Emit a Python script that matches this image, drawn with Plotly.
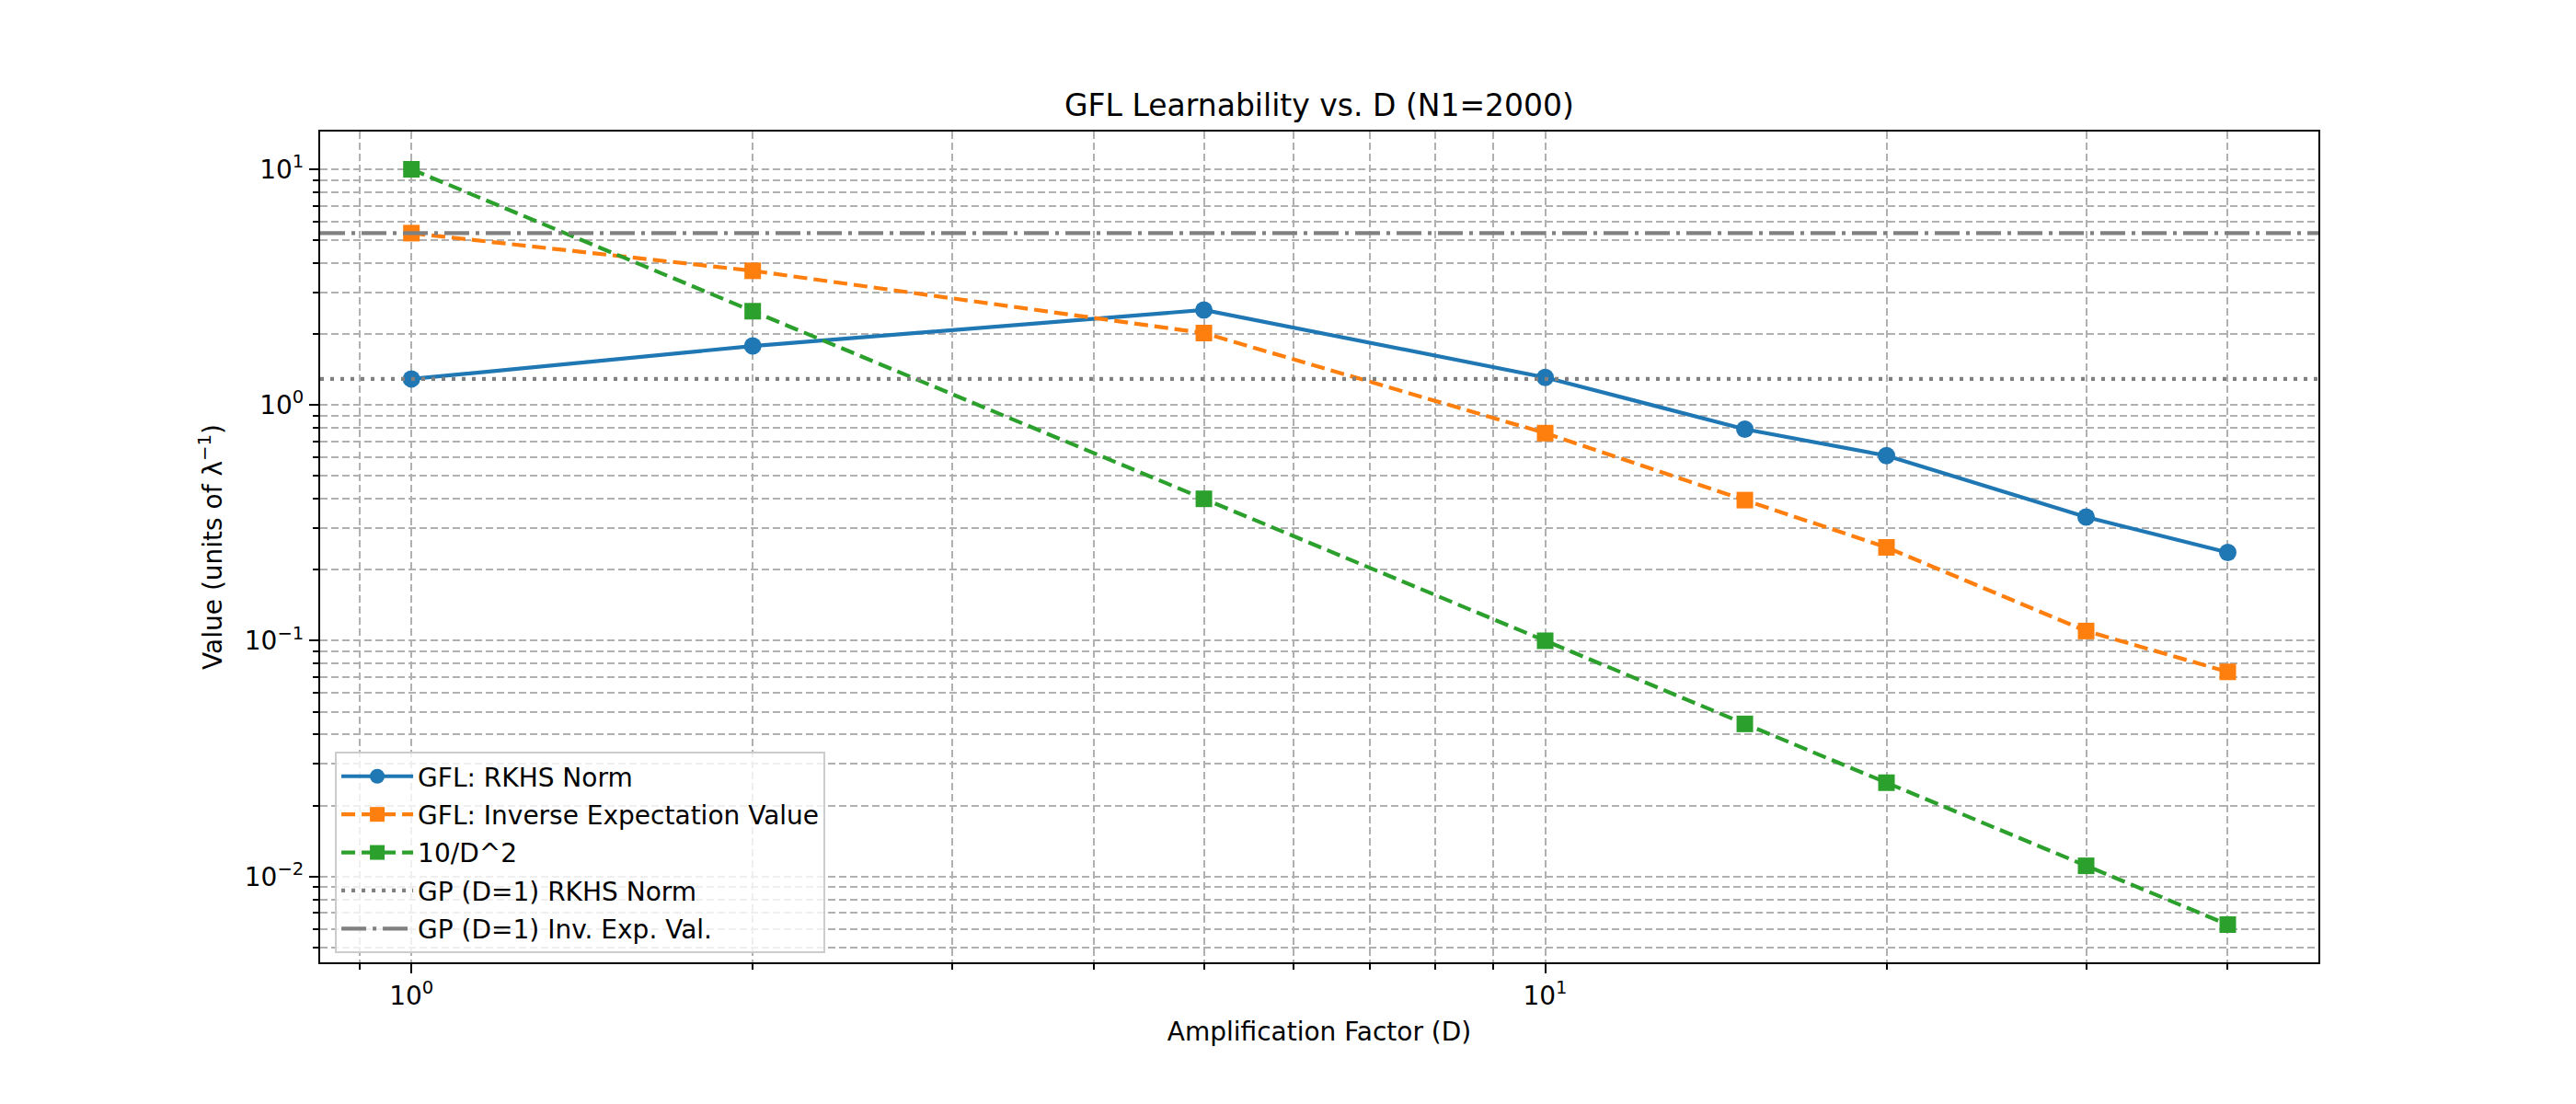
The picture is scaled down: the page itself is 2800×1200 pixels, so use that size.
import plotly.graph_objects as go

# --- data ---
D = [1, 2, 5, 10, 15, 20, 30, 40]
rkhs_norm = [1.29, 1.78, 2.53, 1.31, 0.79, 0.61, 0.335, 0.237]
inv_exp_val = [5.36, 3.71, 2.02, 0.76, 0.395, 0.249, 0.110, 0.0738]
ref_curve = [10.0, 2.5, 0.4, 0.1, 0.0444, 0.025, 0.0111, 0.00625]
gp_rkhs = 1.29
gp_inv_exp = 5.36

# axis ranges (log10), matplotlib-like 5% margins
X_RANGE = [-0.0805, 1.682]
Y_RANGE = [-2.364, 1.160]

FONT = "DejaVu Sans"
BLUE, ORANGE, GREEN, GRAY = "#1f77b4", "#ff7f0e", "#2ca02c", "#808080"
GRID = "#b0b0b0"

# page body adds an 8px offset, so compensate in the margins
OFF = 8

x_span = [10 ** X_RANGE[0], 10 ** X_RANGE[1]]

fig = go.Figure()
fig.add_trace(go.Scatter(
    x=D, y=rkhs_norm, mode="lines+markers", name="GFL: RKHS Norm", legendgroup="a",
    line=dict(color=BLUE, width=4.2),
    marker=dict(symbol="circle", size=19, color=BLUE)
))
fig.add_trace(go.Scatter(
    x=D, y=inv_exp_val, mode="lines+markers", name="GFL: Inverse Expectation Value", legendgroup="b",
    line=dict(color=ORANGE, width=4.2, dash="15px,7px"),
    marker=dict(symbol="square", size=18, color=ORANGE)
))
fig.add_trace(go.Scatter(
    x=D, y=ref_curve, mode="lines+markers", name="10/D^2", legendgroup="c",
    line=dict(color=GREEN, width=4.2, dash="15px,7px"),
    marker=dict(symbol="square", size=18, color=GREEN)
))
fig.add_trace(go.Scatter(
    x=x_span, y=[gp_rkhs, gp_rkhs], mode="lines", name="GP (D=1) RKHS Norm", legendgroup="d",
    line=dict(color=GRAY, width=4.2, dash="4px,7px")
))
fig.add_trace(go.Scatter(
    x=x_span, y=[gp_inv_exp, gp_inv_exp], mode="lines", name="GP (D=1) Inv. Exp. Val.", legendgroup="e",
    line=dict(color=GRAY, width=4.2, dash="27px,7px,4px,7px")
))

def minor_vals(lo, hi):
    vals = []
    for e in range(lo, hi):
        for m in range(2, 10):
            vals.append(m * 10 ** e)
    return vals

def sup(e):
    return "10<sup>%s</sup>" % (str(e).replace("-", "\u2212"))

axis_common = dict(
    type="log", showline=True, linecolor="black", linewidth=2.2, mirror=True,
    ticks="outside", ticklen=10, tickwidth=2.2, tickcolor="black",
    showgrid=True, gridcolor=GRID, gridwidth=2, griddash="8px,4px",
    zeroline=False, tickfont=dict(family=FONT, size=28, color="black"),
)
minor_common = dict(tickmode="array", ticks="outside", ticklen=6, tickwidth=1.7,
                    tickcolor="black", showgrid=True, gridcolor=GRID,
                    gridwidth=2, griddash="8px,4px")

fig.update_xaxes(
    **axis_common, range=X_RANGE,
    tickmode="array", tickvals=[1, 10], ticktext=[sup(0), sup(1)],
    minor=dict(**minor_common, tickvals=minor_vals(-1, 2)),
    title=dict(text="Amplification Factor (D)", font=dict(family=FONT, size=28, color="black"), standoff=14),
)
fig.update_yaxes(
    **axis_common, range=Y_RANGE,
    tickmode="array", tickvals=[0.01, 0.1, 1, 10], ticktext=[sup(-2), sup(-1), sup(0), sup(1)],
    minor=dict(**minor_common, tickvals=minor_vals(-3, 2)),
    title=dict(text="Value (units of \u03bb<sup>\u22121</sup>)", font=dict(family=FONT, size=28, color="black"), standoff=16),
)

fig.update_layout(
    width=2800, height=1200,
    margin=dict(l=348 - OFF, r=280 + OFF, t=143 - OFF, b=154 + OFF),
    paper_bgcolor="white", plot_bgcolor="white",
    font=dict(family=FONT, size=28, color="black"),
    title=dict(text="GFL Learnability vs. D (N1=2000)", x=(1434 - OFF) / 2800,
               xanchor="center", y=1 - (114 - OFF) / 1200, yanchor="middle",
               font=dict(family=FONT, size=33, color="black")),
    legend=dict(x=0.0074, y=0.011, xanchor="left", yanchor="bottom",
                bgcolor="rgba(255,255,255,0.8)", bordercolor="#cccccc", borderwidth=2,
                font=dict(family=FONT, size=28, color="black"), itemwidth=78,
                tracegroupgap=2),
    showlegend=True,
)

fig.write_html("out.html")
